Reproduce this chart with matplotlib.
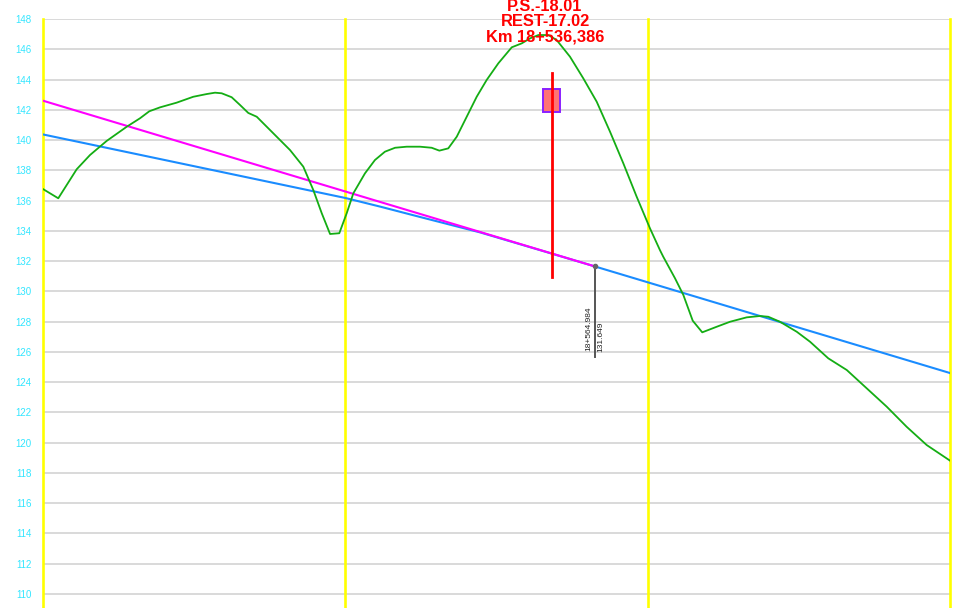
import matplotlib
matplotlib.use("Agg")
import matplotlib.pyplot as plt
from matplotlib.patches import Rectangle

# Terreno natural (chainage m, cota)
terrain_ch = [18200.0, 18210.1, 18222.3, 18231.1, 18242.1, 18255.4, 18264.2, 18270.3, 18277.4,
              18288.4, 18299.4, 18308.3, 18313.8, 18318.2, 18324.8, 18330.3, 18335.8, 18341.4,
              18352.3, 18363.4, 18372.2, 18378.8, 18384.4, 18389.9, 18396.0, 18400.9, 18405.3,
              18413.0, 18419.6, 18426.2, 18432.9, 18440.6, 18449.4, 18457.1, 18462.2, 18468.1,
              18473.7, 18480.3, 18486.9, 18493.5, 18501.2, 18510.1, 18516.7, 18522.2, 18527.7,
              18534.3, 18539.8, 18548.6, 18557.4, 18566.3, 18575.1, 18583.9, 18592.7, 18601.5,
              18608.1, 18610.3, 18618.1, 18623.6, 18629.8, 18636.1, 18645.7, 18654.5, 18665.5,
              18674.3, 18679.8, 18687.5, 18698.6, 18707.4, 18719.5, 18731.7, 18744.9, 18758.1,
              18771.3, 18784.6, 18800.0]
terrain_z = [136.76, 136.15, 138.07, 139.01, 139.94, 140.88, 141.44, 141.90, 142.16,
             142.47, 142.86, 143.04, 143.13, 143.09, 142.83, 142.32, 141.79, 141.54,
             140.45, 139.34, 138.24, 136.70, 135.16, 133.79, 133.84, 135.16, 136.48,
             137.80, 138.68, 139.23, 139.49, 139.56, 139.56, 139.49, 139.30, 139.45,
             140.22, 141.54, 142.86, 143.97, 145.07, 146.13, 146.39, 146.72, 146.94,
             146.94, 146.61, 145.51, 144.08, 142.53, 140.55, 138.46, 136.26, 134.17,
             132.73, 132.29, 130.86, 129.76, 128.06, 127.29, 127.66, 127.99, 128.28,
             128.37, 128.32, 127.99, 127.33, 126.67, 125.57, 124.80, 123.59, 122.38,
             121.05, 119.84, 118.81]

# Rasante (con curva vertical)
grade_ch = [18200.0, 18300.0, 18400.0, 18423.0, 18450.0, 18489.0, 18535.0, 18564.984, 18800.0]
grade_z = [140.37, 138.27, 136.17, 135.60, 134.90, 133.90, 132.54, 131.649, 124.60]

# Prolongacion de la pendiente de salida
tangent_ch = [18200.0, 18564.984]
tangent_z = [142.60, 131.649]

# Punto de quiebre
pi_ch = 18564.984
pi_z = 131.649
pi_low = 125.66

# Estructura
struct_ch = 18536.386
struct_top = 144.43
struct_bot = 130.95
box_w = 11.0
box_z = [141.85, 143.37]

y_ticks = list(range(110, 149, 2))
x_lines = [18200, 18400, 18600, 18800]

fig = plt.figure(figsize=(9.57, 6.08), dpi=100)
ax = fig.add_axes([43 / 957, 0, 907 / 957, 589 / 608])
ax.set_xlim(18200, 18800)
ax.set_ylim(109.07, 148)

for s in ax.spines.values():
    s.set_visible(False)
ax.set_xticks([])
ax.set_yticks(y_ticks)
ax.tick_params(axis="y", length=0, pad=8, labelsize=7, labelcolor="#33e6ff")
for lab in ax.get_yticklabels():
    lab.set_fontfamily("Liberation Sans")

for t in y_ticks:
    ax.axhline(t, color="#d9d9d9", lw=1.4, zorder=1)
for xl in x_lines:
    ax.axvline(xl, color="#ffff00", lw=1.9, zorder=2, clip_on=False)

ax.plot(grade_ch, grade_z, color="#1a8cff", lw=1.5, zorder=3)
ax.plot(tangent_ch, tangent_z, color="#ff00ff", lw=1.5, zorder=4)
ax.plot(terrain_ch, terrain_z, color="#14ad14", lw=1.3, zorder=5)

ax.add_patch(Rectangle((struct_ch - box_w / 2, box_z[0]), box_w, box_z[1] - box_z[0],
                       facecolor="#ff7373", edgecolor="#8a1fff", lw=1.4, zorder=6))
ax.plot([struct_ch, struct_ch], [struct_bot, struct_top], color="#ff0000", lw=2.0, zorder=7)

ax.plot([pi_ch, pi_ch], [pi_z, pi_low], color="#555555", lw=1.4, zorder=7)
ax.plot(pi_ch, pi_z, marker="o", ms=3, color="#666666", zorder=8)
ax.annotate("18+564.984", (pi_ch, pi_low), xytext=(-1.5, 4.5), textcoords="offset points",
            rotation=90, ha="right", va="bottom", fontsize=6, family="Liberation Sans",
            color="#222222")
ax.annotate("131.649", (pi_ch, pi_low), xytext=(2.0, 3.5), textcoords="offset points",
            rotation=90, ha="left", va="bottom", fontsize=6, family="Liberation Sans",
            color="#222222")

fig.text(545 / 957, 1 - 44 / 608, "P.S.-18.01\nREST-17.02\nKm 18+536,386",
         ha="center", va="bottom", color="#ff0000", fontsize=11.8, fontweight="bold",
         family="Liberation Sans", linespacing=1.0, multialignment="center")

fig.savefig("out.png", dpi=100)
